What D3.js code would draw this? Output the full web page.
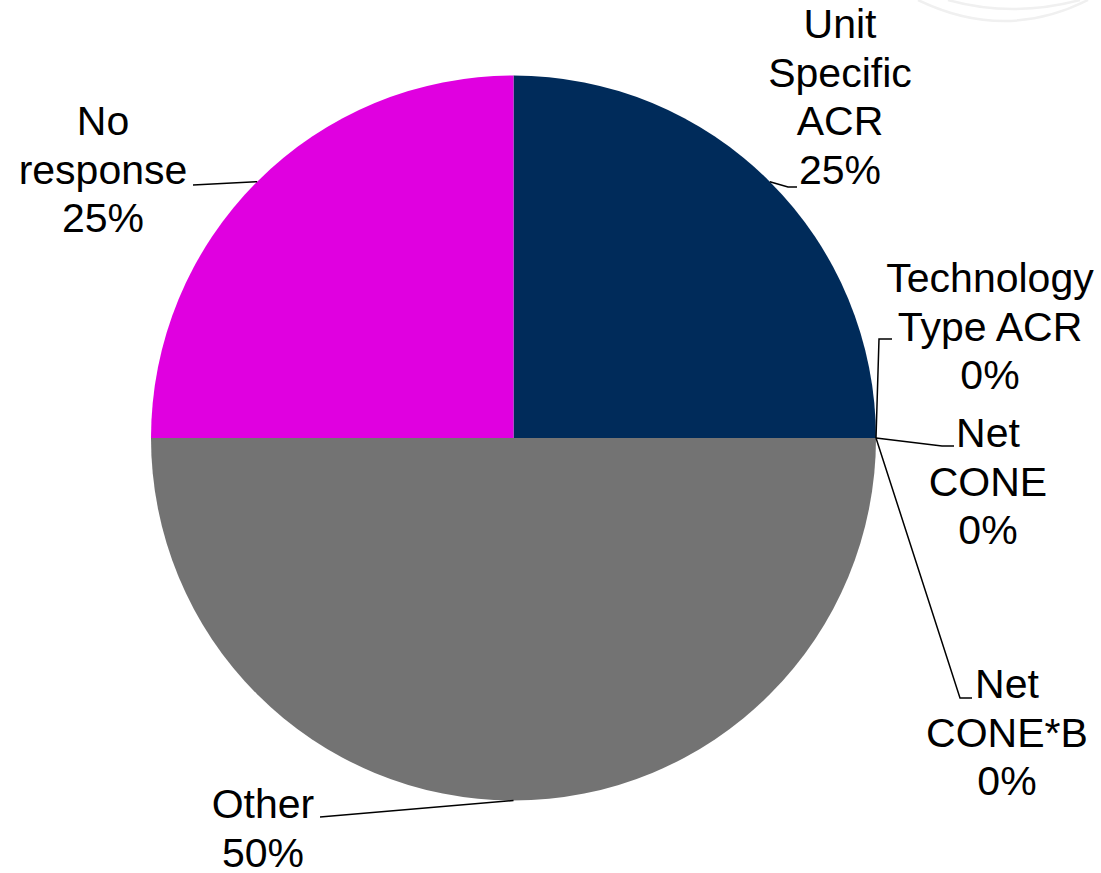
<!DOCTYPE html>
<html><head><meta charset="utf-8">
<script src="https://cdn.jsdelivr.net/npm/d3@7"></script>
<style>html,body{margin:0;padding:0;background:#fff;}svg{display:block;}</style>
</head><body>
<script>
// ---- data ----
const categories = ["Unit Specific ACR", "Technology Type ACR", "Net CONE", "Net CONE*B", "Other", "No response"];
const values = [25, 0, 0, 0, 50, 25];
const labelLines = [["Unit", "Specific", "ACR", "25%"], ["Technology", "Type ACR", "0%"], ["Net", "CONE", "0%"], ["Net", "CONE*B", "0%"], ["Other", "50%"], ["No", "response", "25%"]];
const colors = ["#002B5A", "#002B5A", "#737373", "#737373", "#737373", "#E000E0"];

// ---- layout (positions, not data) ----
const W = 1101, H = 873;
const cx = 513.5, cy = 438, R = 362.5;
const fontSize = 41, lineH = 48.7;
// label text anchor: centre x, first baseline y
const labelPos = [[840, 38], [990, 292], [988, 447], [1007, 698], [263, 818], [103, 135]];
// leader line elbows (after the arc point)
const leaders = [
  [[788, 187], [797, 187]],
  [[879, 339], [892, 339]],
  [[942, 446], [954, 446]],
  [[960, 698], [972, 698]],
  [[320, 817]],
  [[193, 185]]
];

const svg = d3.select("body").append("svg").attr("width", W).attr("height", H);

// faint watermark arcs at top right
const wm = svg.append("g").attr("fill", "none").attr("stroke", "#f0f0f0").attr("stroke-width", 2.5);
wm.append("path").attr("d", "M918,0 Q1005,42 1088,0");
wm.append("path").attr("d", "M948,0 Q1012,18 1080,0");

const pie = d3.pie().sort(null).value(d => d).startAngle(0).endAngle(2 * Math.PI);
const arcs = pie(values);
const arc = d3.arc().innerRadius(0).outerRadius(R);

const g = svg.append("g").attr("transform", `translate(${cx},${cy})`);
g.selectAll("path.slice").data(arcs).join("path")
  .attr("class", "slice")
  .attr("d", arc)
  .attr("fill", (d, i) => colors[i]);

// leader lines
arcs.forEach((d, i) => {
  const a = (d.startAngle + d.endAngle) / 2;
  const p0 = [cx + R * Math.sin(a), cy - R * Math.cos(a)];
  const pts = [p0].concat(leaders[i]);
  svg.append("path")
    .attr("d", d3.line()(pts))
    .attr("fill", "none")
    .attr("stroke", "#000")
    .attr("stroke-width", 1.5);
});

// labels
labelLines.forEach((lines, i) => {
  const t = svg.append("text")
    .attr("text-anchor", "middle")
    .attr("font-family", "Liberation Sans, Arial, sans-serif")
    .attr("font-size", fontSize)
    .attr("fill", "#000");
  lines.forEach((s, j) => {
    t.append("tspan").attr("x", labelPos[i][0]).attr("y", labelPos[i][1] + j * lineH).text(s);
  });
});
</script>
</body></html>
